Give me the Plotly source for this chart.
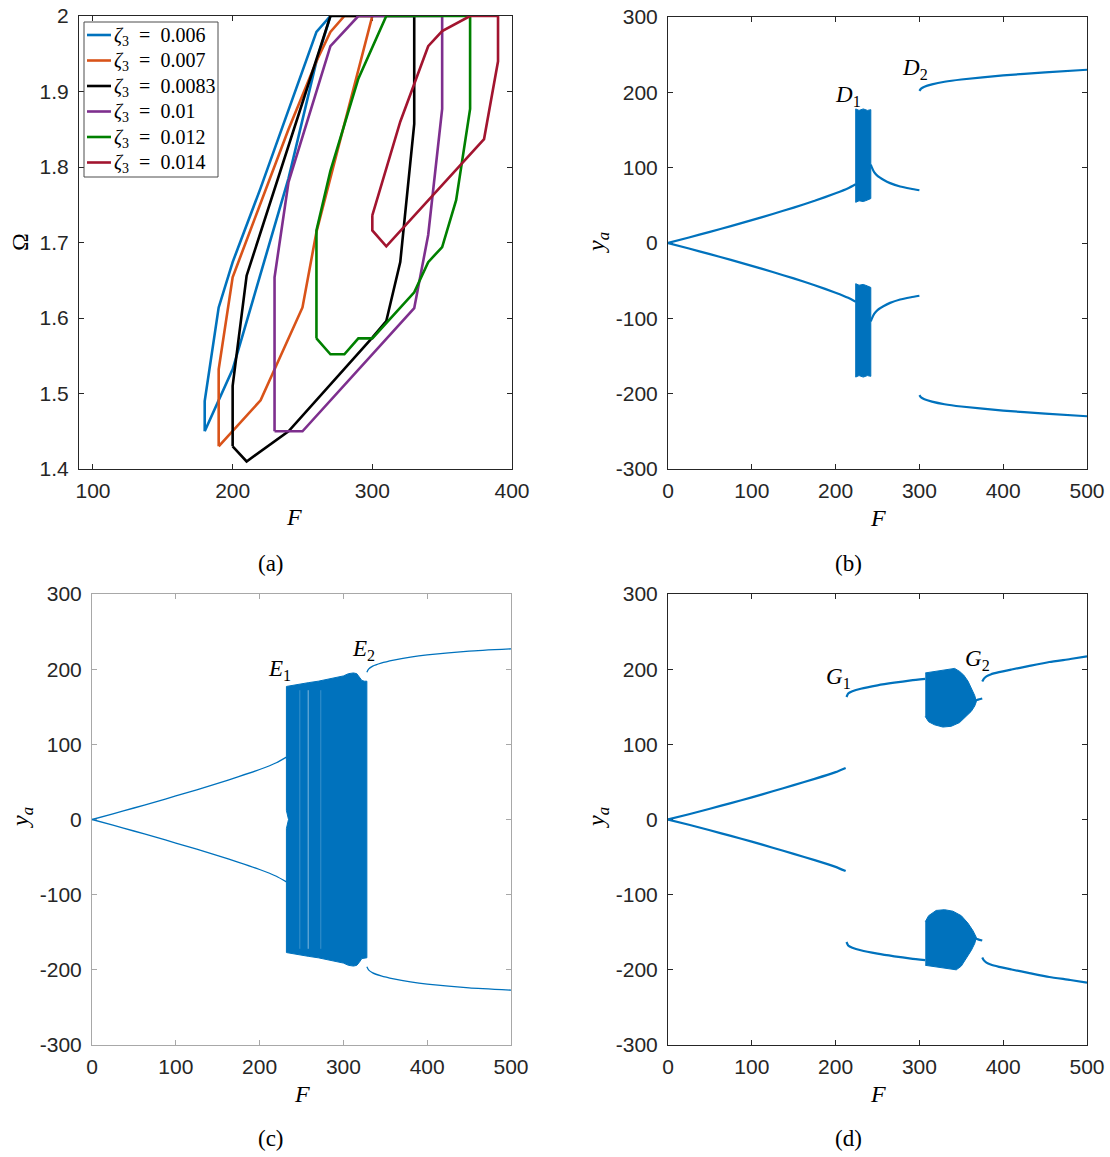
import plotly.graph_objects as go

W, H = 1110, 1157
BLUE = "#0072BD"
TICK_FONT = dict(family="Liberation Sans, Arial, sans-serif", size=21, color="#262626")
SERIF = "Liberation Serif, Times New Roman, serif"

# ---------------- (a) instability regions in the (F, Omega) plane ----------------
zeta_labels = ["0.006", "0.007", "0.0083", "0.01", "0.012", "0.014"]
zeta_colors = ["#0072BD", "#D95319", "#000000", "#7E2F8E", "#008000", "#A2142F"]

F_z006 = [180, 180, 190, 200, 220, 240, 260, 270, 260, 240, 220, 200, 180]
W_z006 = [1.45, 1.49, 1.614, 1.674, 1.772, 1.876, 1.979, 2.0, 1.94, 1.785, 1.66, 1.532, 1.45]

F_z007 = [190, 190, 200, 220, 240, 260, 270, 280, 300, 260, 250, 220, 190]
W_z007 = [1.43, 1.532, 1.654, 1.752, 1.85, 1.94, 1.979, 2.0, 2.0, 1.714, 1.614, 1.491, 1.43]

F_z0083 = [200, 200, 210, 270, 330, 330, 320, 310, 300, 240, 210, 200]
W_z0083 = [1.43, 1.51, 1.656, 2.0, 2.0, 1.857, 1.674, 1.596, 1.574, 1.45, 1.41, 1.43]

F_z01 = [230, 230, 240, 270, 290, 350, 350, 340, 330, 250, 230]
W_z01 = [1.45, 1.654, 1.78, 1.96, 2.0, 2.0, 1.877, 1.71, 1.613, 1.45, 1.45]

F_z012 = [260, 260, 270, 290, 310, 370, 370, 360, 350, 340, 330, 300, 290, 280, 270, 260]
W_z012 = [1.573, 1.716, 1.795, 1.917, 2.0, 2.0, 1.877, 1.756, 1.694, 1.674, 1.634, 1.573, 1.573, 1.552, 1.552, 1.573]

F_z014 = [300, 300, 310, 380, 390, 390, 370, 350, 340, 320, 300]
W_z014 = [1.736, 1.716, 1.695, 1.837, 1.94, 2.0, 2.0, 1.98, 1.96, 1.86, 1.736]

region_F = [F_z006, F_z007, F_z0083, F_z01, F_z012, F_z014]
region_W = [W_z006, W_z007, W_z0083, W_z01, W_z012, W_z014]

# ---------------- (b) bifurcation diagram, D1 / D2 ----------------
b_low_F = [0, 25, 50, 75, 100, 125, 150, 175, 200, 215, 224]
b_low_y = [0, 7.3, 14.8, 22.4, 30.3, 38.5, 47, 56, 66, 72.8, 78]
b_band_F = [224, 228, 233, 238, 242]
b_band_top = [178, 176, 178, 176, 177]
b_band_bot = [54, 56, 55, 57, 59]
b_mid_F = [242, 243, 246, 250, 257, 265, 277, 290, 300]
b_mid_y = [104, 101, 94, 89, 84, 79.5, 75, 72, 70]
b_high_F = [300, 302, 306, 315, 330, 350, 400, 450, 500]
b_high_y = [202, 205, 207.5, 210.5, 214, 217, 222.5, 226.5, 230]

# ---------------- (c) bifurcation diagram, E1 / E2 ----------------
c_low_F = [0, 25, 50, 75, 100, 125, 150, 175, 200, 220, 232]
c_low_y = [0, 7.5, 15.3, 23.2, 31.3, 39.5, 48, 57, 66.5, 75.5, 83]
c_band_top_F = [232, 245, 258, 270, 285, 300, 306, 312, 316, 319, 322, 325, 328]
c_band_top_y = [177, 180, 182, 184, 187, 191, 194, 195, 194, 190, 185, 184, 184]
c_band_bot_y = [-177, -180, -182, -184, -187, -191, -194, -195, -194, -190, -185, -184, -184]
c_notch_F = [232, 234.5, 232]
c_notch_y = [-12, 0, 12]
c_gap_F = [248, 258, 273]
c_gap_alpha = [0.22, 0.5, 0.22]
c_high_F = [328, 330, 335, 345, 360, 380, 400, 450, 500]
c_high_y = [196, 200, 204, 208, 212, 216, 219, 224, 227]

# ---------------- (d) bifurcation diagram, G1 / G2 ----------------
d_low_F = [0, 25, 50, 75, 100, 125, 150, 175, 200, 212]
d_low_y = [0, 7, 14.3, 21.8, 29.5, 37.5, 45.7, 54, 63, 68.6]
d_mid_F = [213, 215, 220, 230, 250, 270, 290, 307]
d_mid_y = [163, 167.5, 170.5, 174, 178.5, 182, 185, 187]
d_band_up_F = [307, 320, 335, 342, 348, 353, 358, 362, 366, 368, 366, 362, 356, 348, 338, 328, 318, 311, 307]
d_band_up_y = [195, 197, 200, 201, 197, 192, 184, 175, 165, 157, 151, 144, 137, 129, 124, 123, 126, 130, 137]
d_band_dn_F = [307, 311, 320, 330, 340, 350, 358, 364, 368, 366, 362, 356, 350, 344, 330, 320, 307]
d_band_dn_y = [-136, -128, -121, -120, -122, -128, -138, -148, -157, -165, -174, -185, -195, -200, -198, -196, -194]
d_tail_F = [366, 370, 375]
d_tail_y = [158, 159.5, 161]
d_high_F = [375, 377, 380, 385, 395, 410, 430, 455, 480, 500]
d_high_y = [183.5, 187.5, 190.5, 193, 196, 199.5, 204, 209.5, 213.5, 217]

fig = go.Figure()

# panel (a)
for lab, col, fx, wy in zip(zeta_labels, zeta_colors, region_F, region_W):
    fig.add_trace(go.Scatter(
        x=fx, y=wy, mode="lines", line=dict(color=col, width=2.6),
        name=f"ζ3 = {lab}", xaxis="x", yaxis="y", showlegend=False))


def branch(fx, fy, xa, ya, width, sign=1):
    fig.add_trace(go.Scatter(x=fx, y=[sign * v for v in fy], mode="lines",
                             line=dict(color=BLUE, width=width, shape="spline", smoothing=0.5),
                             xaxis=xa, yaxis=ya, showlegend=False, hoverinfo="skip"))


def patch(px, py, xa, ya):
    fig.add_trace(go.Scatter(x=px, y=py, mode="lines", fill="toself",
                             fillcolor=BLUE, line=dict(color=BLUE, width=1),
                             xaxis=xa, yaxis=ya, showlegend=False, hoverinfo="skip"))


# panel (b)
for s in (1, -1):
    branch(b_low_F, b_low_y, "x2", "y2", 2.2, s)
    branch(b_mid_F, b_mid_y, "x2", "y2", 2.2, s)
    branch(b_high_F, b_high_y, "x2", "y2", 2.2, s)
    top = [s * v for v in b_band_top]
    bot = [s * v for v in b_band_bot]
    patch(b_band_F + b_band_F[::-1] + [b_band_F[0]], top + bot[::-1] + [top[0]], "x2", "y2")

# panel (c)
for s in (1, -1):
    branch(c_low_F, c_low_y, "x3", "y3", 1.3, s)
    branch(c_high_F, c_high_y, "x3", "y3", 1.3, s)
cx = c_band_top_F + c_band_top_F[::-1] + c_notch_F + [c_band_top_F[0]]
cy = c_band_top_y + c_band_bot_y[::-1] + c_notch_y + [c_band_top_y[0]]
patch(cx, cy, "x3", "y3")
for gx, ga in zip(c_gap_F, c_gap_alpha):
    fig.add_trace(go.Scatter(x=[gx, gx], y=[-172, 172], mode="lines",
                             line=dict(color=f"rgba(255,255,255,{ga})", width=1),
                             xaxis="x3", yaxis="y3", showlegend=False, hoverinfo="skip"))

# panel (d)
for s in (1, -1):
    branch(d_low_F, d_low_y, "x4", "y4", 2.2, s)
    branch(d_mid_F, d_mid_y, "x4", "y4", 2.2, s)
    branch(d_high_F, d_high_y, "x4", "y4", 2.2, s)
    branch(d_tail_F, d_tail_y, "x4", "y4", 2.2, s)
patch(d_band_up_F, d_band_up_y, "x4", "y4")
patch(d_band_dn_F, d_band_dn_y, "x4", "y4")


def px_dom(a, b, total):
    return [a / total, b / total]


def py_dom(top, bottom):
    return [1 - bottom / H, 1 - top / H]


def xax(dom, rng, vals, anchor, lc="#262626"):
    return dict(domain=dom, range=rng, tickvals=vals, ticktext=[str(v) for v in vals],
                ticks="inside", ticklen=5, tickcolor=lc, linecolor=lc, linewidth=1,
                mirror="ticks", showline=True, showgrid=False, zeroline=False,
                tickfont=TICK_FONT, anchor=anchor, layer="below traces",
                ticklabelstandoff=3, automargin=False)


def yax(dom, rng, vals, text, anchor, lc="#262626"):
    return dict(domain=dom, range=rng, tickvals=vals, ticktext=text,
                ticks="inside", ticklen=5, tickcolor=lc, linecolor=lc, linewidth=1,
                mirror="ticks", showline=True, showgrid=False, zeroline=False,
                tickfont=TICK_FONT, anchor=anchor, layer="below traces",
                ticklabelstandoff=5, automargin=False)


yvals = [-300, -200, -100, 0, 100, 200, 300]
ytext = [str(v) for v in yvals]
fvals = [0, 100, 200, 300, 400, 500]

layout = dict(
    width=W, height=H, margin=dict(l=0, r=0, t=0, b=0, autoexpand=False),
    paper_bgcolor="white", plot_bgcolor="white", showlegend=False,
    xaxis=xax(px_dom(79, 512, W), [90, 400], [100, 200, 300, 400], "y"),
    yaxis=yax(py_dom(16, 469), [1.4, 2.0], [1.4, 1.5, 1.6, 1.7, 1.8, 1.9, 2.0],
              ["1.4", "1.5", "1.6", "1.7", "1.8", "1.9", "2"], "x"),
    xaxis2=xax(px_dom(668, 1087, W), [0, 500], fvals, "y2"),
    yaxis2=yax(py_dom(17, 469), [-300, 300], yvals, ytext, "x2"),
    xaxis3=xax(px_dom(92, 511, W), [0, 500], fvals, "y3", lc="#a8a8a8"),
    yaxis3=yax(py_dom(594, 1045), [-300, 300], yvals, ytext, "x3", lc="#a8a8a8"),
    xaxis4=xax(px_dom(668, 1087, W), [0, 500], fvals, "y4"),
    yaxis4=yax(py_dom(594, 1045), [-300, 300], yvals, ytext, "x4"),
)
fig.update_layout(**layout)

anns = []
shapes = []


def txt(x, y, s, size=24, angle=0, anchor="center"):
    anns.append(dict(x=x / W, y=1 - y / H, xref="paper", yref="paper", text=s,
                     showarrow=False, textangle=angle,
                     font=dict(family=SERIF, size=size, color="#000"),
                     xanchor=anchor, yanchor="middle"))


# legend box for panel (a), drawn in page pixels
LEG_LEFT, LEG_RIGHT, LEG_TOP, LEG_BOTTOM = 84, 218, 22, 177
LEG_ROW0, LEG_STEP = 35, 25.5
shapes.append(dict(type="rect", xref="paper", yref="paper",
                   x0=LEG_LEFT / W, x1=LEG_RIGHT / W,
                   y0=1 - LEG_BOTTOM / H, y1=1 - LEG_TOP / H,
                   line=dict(color="#4d4d4d", width=1), fillcolor="white", layer="above"))
for i, (lab, col) in enumerate(zip(zeta_labels, zeta_colors)):
    ry = LEG_ROW0 + i * LEG_STEP
    shapes.append(dict(type="line", xref="paper", yref="paper",
                       x0=87 / W, x1=111 / W, y0=1 - ry / H, y1=1 - ry / H,
                       line=dict(color=col, width=2.6), layer="above"))
    txt(112, ry + 1, f"<i>ζ</i><sub>3</sub>&nbsp;&nbsp;=&nbsp;&nbsp;{lab}", size=20, anchor="left")

# axis titles
txt(294, 517, "<i>F</i>")
txt(878, 518, "<i>F</i>")
txt(302, 1094, "<i>F</i>")
txt(878, 1094, "<i>F</i>")
txt(20, 242, "Ω", angle=-90)
txt(598, 243, "<i>y<sub>a</sub></i>", angle=-90)
txt(22, 818, "<i>y<sub>a</sub></i>", angle=-90)
txt(598, 818, "<i>y<sub>a</sub></i>", angle=-90)
# captions
txt(271, 563, "(a)", size=23)
txt(848, 563, "(b)", size=23)
txt(271, 1138, "(c)", size=23)
txt(848, 1138, "(d)", size=23)


def point_label(x, y, s, xa, ya):
    anns.append(dict(x=x, y=y, xref=xa, yref=ya, text=s, showarrow=False,
                     font=dict(family=SERIF, size=23, color="#000"),
                     xanchor="center", yanchor="middle"))


point_label(214.8, 195, "<i>D</i><sub>1</sub>", "x2", "y2")
point_label(294.7, 231, "<i>D</i><sub>2</sub>", "x2", "y2")
point_label(224.3, 199, "<i>E</i><sub>1</sub>", "x3", "y3")
point_label(323.4, 225.5, "<i>E</i><sub>2</sub>", "x3", "y3")
point_label(202.9, 188, "<i>G</i><sub>1</sub>", "x4", "y4")
point_label(369.9, 212, "<i>G</i><sub>2</sub>", "x4", "y4")

fig.update_layout(annotations=anns, shapes=shapes)
fig.write_html("out.html")
